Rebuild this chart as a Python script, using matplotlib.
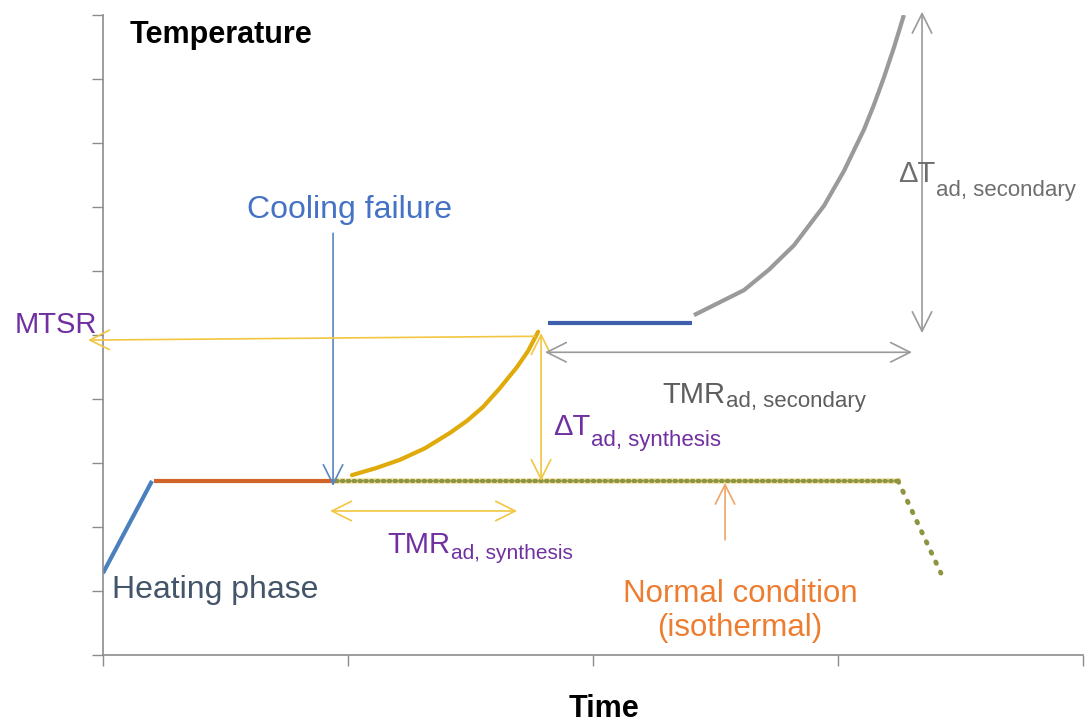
import matplotlib.pyplot as plt

plt.rcParams['font.family'] = ['Liberation Sans', 'DejaVu Sans']

# curve data (x = time, y = temperature, arbitrary units)
heat_x, heat_y = [0.0, 0.2], [1.28, 2.72]
normal_x, normal_y = [0.21, 0.95], [2.72, 2.72]
iso_x, iso_y = [0.95, 3.245, 3.42], [2.72, 2.72, 1.28]
synth_x = [1.016, 1.114, 1.212, 1.314, 1.416, 1.486, 1.551, 1.620, 1.690, 1.735, 1.776]
synth_y = [2.81, 2.92, 3.05, 3.23, 3.47, 3.66, 3.875, 4.17, 4.50, 4.75, 5.05]
hold_x, hold_y = [1.816, 2.404], [5.19, 5.19]
sec_x = [2.412, 2.616, 2.718, 2.820, 2.943, 3.024, 3.106, 3.147, 3.188, 3.229, 3.269]
sec_y = [5.31, 5.70, 6.02, 6.40, 7.02, 7.56, 8.21, 8.60, 9.03, 9.50, 10.0]

purple = '#7030A0'
yellow = '#F2C640'
gray = '#9A9A9A'

fig = plt.figure(figsize=(10.85, 7.28), dpi=100)
ax = fig.add_axes([103 / 1085, 73 / 728, 980 / 1085, 640 / 728])

ax.plot(heat_x, heat_y, color='#4A80BE', lw=3, solid_capstyle='butt')
ax.plot(normal_x, normal_y, color='#D2642A', lw=3, solid_capstyle='butt')
ax.plot(iso_x[:2], iso_y[:2], color='#E8C850', lw=4, alpha=0.5)
ax.plot(iso_x[:2], iso_y[:2], color='#8E9440', lw=3, ls=(0, (0.4, 1.0)), dash_capstyle='round')
ax.plot(iso_x[1:], iso_y[1:], color='#8E9440', lw=3.5, ls=(0, (0.3, 2.0)), dash_capstyle='round')
ax.plot(synth_x, synth_y, color='#DFAA0A', lw=3, solid_capstyle='round', solid_joinstyle='round')
ax.plot(hold_x, hold_y, color='#3F5FAD', lw=3, solid_capstyle='butt')
ax.plot(sec_x, sec_y, color=gray, lw=3, solid_capstyle='butt', solid_joinstyle='round')


def arrow(tail, head, color, style='->', lw=1.2):
    ax.annotate('', xy=head, xytext=tail, annotation_clip=False,
                arrowprops=dict(arrowstyle=style + ',head_length=0.7,head_width=0.35',
                                color=color, lw=lw, mutation_scale=20,
                                shrinkA=0, shrinkB=0))


def sub_label(x, y, main, sub, color, size, subsize, dy):
    t = ax.text(x, y, main, color=color, fontsize=size, va='baseline', ha='left')
    ax.annotate(sub, xy=(1, 0), xycoords=t, xytext=(0.5, dy),
                textcoords='offset points', color=color, fontsize=subsize,
                va='baseline', ha='left')


# annotations
arrow((0.939, 6.59), (0.939, 2.64), '#5A85C0')
ax.text(1.008, 6.95, 'Cooling failure', color='#4472C4', fontsize=23,
        ha='center', va='center')

arrow((1.763, 4.98), (-0.061, 4.92), yellow)
ax.text(-0.36, 5.16, 'MTSR', color=purple, fontsize=21, ha='left', va='center',
        clip_on=False)

arrow((1.788, 5.03), (1.788, 2.72), yellow, '<->')
sub_label(1.837, 3.44, '\u0394T', 'ad, synthesis', purple, 21, 16, -4)

arrow((0.927, 2.25), (1.69, 2.25), yellow, '<->')
sub_label(1.159, 1.59, 'TMR', 'ad, synthesis', purple, 21, 15, 0)

arrow((1.804, 4.73), (3.302, 4.73), gray, '<->')
sub_label(2.282, 3.94, 'TMR', 'ad, secondary', '#5E5E5E', 21, 16, 1)

arrow((3.343, 5.03), (3.343, 10.05), gray, '<->')
sub_label(3.245, 7.39, '\u0394T', 'ad, secondary', '#6E6E6E', 21, 16, -6)

arrow((2.539, 1.80), (2.539, 2.69), '#F0A468')
ax.text(2.6, 0.69, 'Normal condition\n(isothermal)', color='#ED7D31', fontsize=22.5,
        ha='center', va='center', linespacing=1.2)

ax.text(0.037, 1.02, 'Heating phase', color='#44546A', fontsize=23,
        ha='left', va='center')

ax.text(0.0276, 0.969, 'Temperature', transform=ax.transAxes, fontsize=22,
        fontweight='bold', ha='left', va='center')
fig.text(0.557, 0.026, 'Time', fontsize=22, fontweight='bold',
         ha='center', va='center')

ax.set_xlim(0, 4)
ax.set_ylim(0, 10)
ax.set_xticks(range(5))
ax.set_yticks(range(11))
ax.set_xticklabels([])
ax.set_yticklabels([])
ax.tick_params(direction='out', length=8, width=1, color='#8C8C8C')
for side in ['top', 'right']:
    ax.spines[side].set_visible(False)
for side in ['left', 'bottom']:
    ax.spines[side].set_color('#8C8C8C')
    ax.spines[side].set_linewidth(1.2)

fig.savefig('out.png', dpi=100)
